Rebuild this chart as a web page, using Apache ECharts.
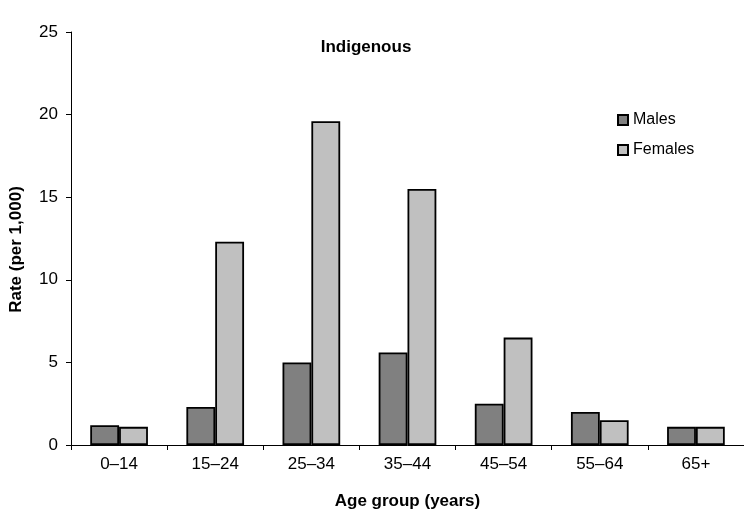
<!DOCTYPE html>
<html><head><meta charset="utf-8">
<script src="https://cdn.jsdelivr.net/npm/echarts@6/dist/echarts.min.js"></script>
<style>html,body{margin:0;padding:0;background:#fff}#c{width:744px;height:515px}</style>
</head><body><div id="c"></div>
<script>
const categories = ['0–14','15–24','25–34','35–44','45–54','55–64','65+'];
const males = [1.2, 2.3, 5.0, 5.6, 2.5, 2.0, 1.1];
const females = [1.1, 12.3, 19.6, 15.5, 6.5, 1.5, 1.1];
const yTicks = [0, 5, 10, 15, 20, 25];

const font = 'Liberation Sans, Arial, sans-serif';
const chart = echarts.init(document.getElementById('c'));
chart.setOption({
  animation: false,
  title: { text: 'Indigenous', left: 361, top: 34, textAlign: 'center',
    textStyle: { fontFamily: font, fontSize: 17, fontWeight: 'bold', color: '#000' } },
  legend: {
    orient: 'vertical', left: 612, top: 107, itemWidth: 10, itemHeight: 10, itemGap: 14,
    icon: 'rect',
    textStyle: { fontFamily: font, fontSize: 16, color: '#000' },
    data: ['Males', 'Females']
  },
  grid: { left: 71, right: -6, top: 32, bottom: 66, containLabel: false },
  xAxis: {
    type: 'category', data: categories,
    name: 'Age group (years)', nameLocation: 'middle', nameGap: 48,
    nameTextStyle: { fontFamily: font, fontSize: 17, fontWeight: 'bold', color: '#000' },
    axisLine: { lineStyle: { color: '#000', width: 1 } },
    axisTick: { show: true, length: 5, lineStyle: { color: '#000' } },
    axisLabel: { fontFamily: font, fontSize: 17, color: '#000', margin: 11 }
  },
  yAxis: {
    type: 'value', min: 0, max: 25, interval: 5,
    name: 'Rate (per 1,000)', nameLocation: 'middle', nameGap: 46,
    nameTextStyle: { fontFamily: font, fontSize: 17, fontWeight: 'bold', color: '#000',
      padding: [0, 22, 0, 0] },
    axisLine: { show: true, lineStyle: { color: '#000', width: 1 } },
    axisTick: { show: true, length: 5, lineStyle: { color: '#000' } },
    axisLabel: { fontFamily: font, fontSize: 17, color: '#000', margin: 13,
      formatter: v => yTicks.includes(v) ? String(v) : '' },
    splitLine: { show: false }
  },
  series: [
    { name: 'Males', type: 'bar', data: males, barGap: '0%', barCategoryGap: '40%',
      itemStyle: { color: '#808080', borderColor: '#000', borderWidth: 1.8 } },
    { name: 'Females', type: 'bar', data: females, barGap: '0%', barCategoryGap: '40%',
      itemStyle: { color: '#c0c0c0', borderColor: '#000', borderWidth: 1.8 } }
  ]
});
</script></body></html>
